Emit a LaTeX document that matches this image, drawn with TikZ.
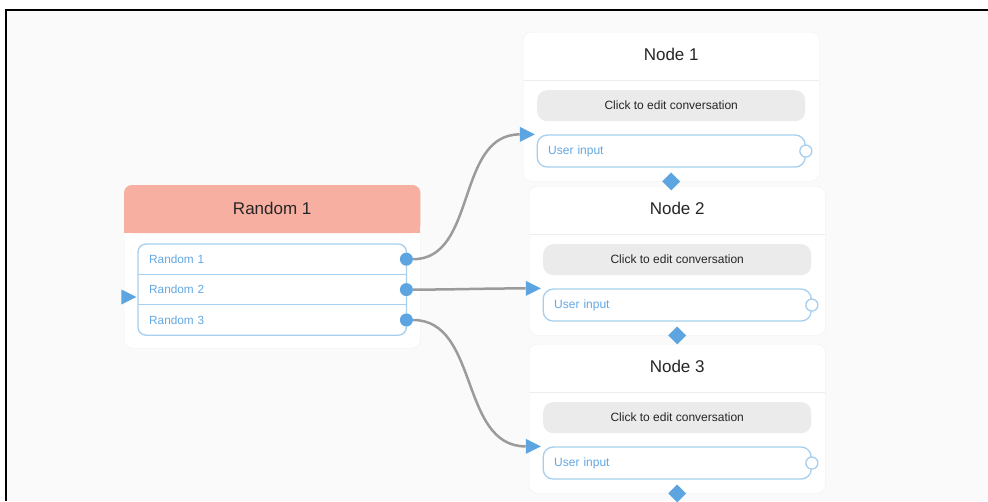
\documentclass[tikz,border=0pt]{standalone}
\usepackage{fontspec}
\setmainfont{Liberation Sans}
\usetikzlibrary{positioning,shapes.geometric}

\definecolor{canvasgray}{HTML}{FAFAFA}
\definecolor{headred}{HTML}{F7AFA1}
\definecolor{portblue}{HTML}{5DA5E0}
\definecolor{rimblue}{HTML}{A6CEEE}
\definecolor{labelblue}{HTML}{64A8E2}
\definecolor{pillgray}{HTML}{EBEBEB}
\definecolor{wiregray}{HTML}{9B9B9B}
\definecolor{titlegray}{HTML}{262626}

\tikzset{
  card/.style={draw=black!6, fill=white, rounded corners=8pt, minimum width=296pt, inner sep=0pt},
  title/.style={font=\fontsize{17}{20}\selectfont, text=titlegray},
  pill/.style={fill=pillgray, rounded corners=10pt, minimum width=268pt, minimum height=31pt, inner sep=0pt, font=\fontsize{12}{14}\selectfont, text=black!85},
  inbox/.style={draw=rimblue, line width=1.3pt, fill=white, rounded corners=10pt, minimum height=32pt, inner xsep=11pt, inner ysep=0pt, text width=246pt, align=left, font=\fontsize{12}{14}\selectfont, text=labelblue},
  rowlabel/.style={minimum height=30pt, inner xsep=11pt, inner ysep=0pt, text width=246pt, align=left, font=\fontsize{11.8}{14}\selectfont, text=labelblue},
  rim/.style={draw=rimblue, line width=1.3pt},
  sepline/.style={draw=black!7, line width=1pt},
  outdot/.style={circle, fill=portblue, minimum size=13pt, inner sep=0pt},
  opendot/.style={circle, draw=rimblue, line width=1.3pt, fill=white, minimum size=12pt, inner sep=0pt},
  inport/.style={isosceles triangle, isosceles triangle stretches, fill=portblue, minimum width=15pt, minimum height=15pt, inner sep=0pt},
  nextport/.style={diamond, fill=portblue, minimum width=18pt, minimum height=18pt, inner sep=0pt},
  wire/.style={draw=wiregray, line width=2.5pt}
}

\begin{document}
\begin{tikzpicture}[x=1pt,y=-1pt]
\useasboundingbox (0,0) rectangle (988,501);

% canvas and frame
\fill[white] (0,0) rectangle (988,501);
\fill[canvasgray] (6,9.5) rectangle (988,501);
\draw[line width=2pt] (6,501) -- (6,9.5) -- (988,9.5);

% Random 1
\node[card, minimum height=163pt, anchor=north west] (r1) at (124,185) {};
\fill[headred, rounded corners=8pt] (r1.north west) rectangle ([yshift=-48pt]r1.north east);
\fill[headred] ([yshift=-30pt]r1.north west) rectangle ([yshift=-48pt]r1.north east);
\node[title] (r1t) at ([yshift=-23pt]r1.north) {Random 1};
\node[rowlabel, anchor=north west] (row1) at (138,244) {Random 1};
\node[rowlabel, below=0pt of row1] (row2) {Random 2};
\node[rowlabel, below=0pt of row2] (row3) {Random 3};
\draw[rim, rounded corners=8pt] (row1.north west) rectangle (row3.south east);
\draw[rim] (row1.south west) -- (row1.south east);
\draw[rim] (row2.south west) -- (row2.south east);
\node[outdot] (o1) at (row1.east) {};
\node[outdot] (o2) at (row2.east) {};
\node[outdot] (o3) at (row3.east) {};
\node[inport] (r1in) at (126,297) {};

% Node 1
\node[card, minimum height=149pt, anchor=north west] (n1) at (523,32) {};
\node[title] (n1t) at ([yshift=-22pt]n1.north) {Node 1};
\draw[sepline] ([yshift=-48pt]n1.north west) -- ([yshift=-48pt]n1.north east);
\node[pill, anchor=north] (n1c) at ([yshift=-58pt]n1.north) {Click to edit conversation};
\node[inbox, below=13pt of n1c] (n1u) {User input};
\node[opendot] (n1o) at (n1u.east) {};
\node[inport] (n1in) at ([xshift=-12pt]n1u.north west) {};

% Node 2
\node[card, minimum height=149pt, anchor=north west] (n2) at (529,186) {};
\node[title] (n2t) at ([yshift=-22pt]n2.north) {Node 2};
\draw[sepline] ([yshift=-48pt]n2.north west) -- ([yshift=-48pt]n2.north east);
\node[pill, anchor=north] (n2c) at ([yshift=-58pt]n2.north) {Click to edit conversation};
\node[inbox, below=13pt of n2c] (n2u) {User input};
\node[opendot] (n2o) at (n2u.east) {};
\node[inport] (n2in) at ([xshift=-12pt]n2u.north west) {};

% Node 3
\node[card, minimum height=149pt, anchor=north west] (n3) at (529,344) {};
\node[title] (n3t) at ([yshift=-22pt]n3.north) {Node 3};
\draw[sepline] ([yshift=-48pt]n3.north west) -- ([yshift=-48pt]n3.north east);
\node[pill, anchor=north] (n3c) at ([yshift=-58pt]n3.north) {Click to edit conversation};
\node[inbox, below=13pt of n3c] (n3u) {User input};
\node[opendot] (n3o) at (n3u.east) {};
\node[inport] (n3in) at ([xshift=-12pt]n3u.north west) {};

% next ports
\node[nextport] (n1d) at (n1.south) {};
\node[nextport] (n2d) at (n2.south) {};
\node[nextport] (n3d) at (n3.south) {};

% wires
\draw[wire] (o1) to[out=0,in=180] (n1in);
\draw[wire] (o2) to[out=0,in=180] (n2in);
\draw[wire] (o3) to[out=0,in=180] (n3in);

\end{tikzpicture}
\end{document}
